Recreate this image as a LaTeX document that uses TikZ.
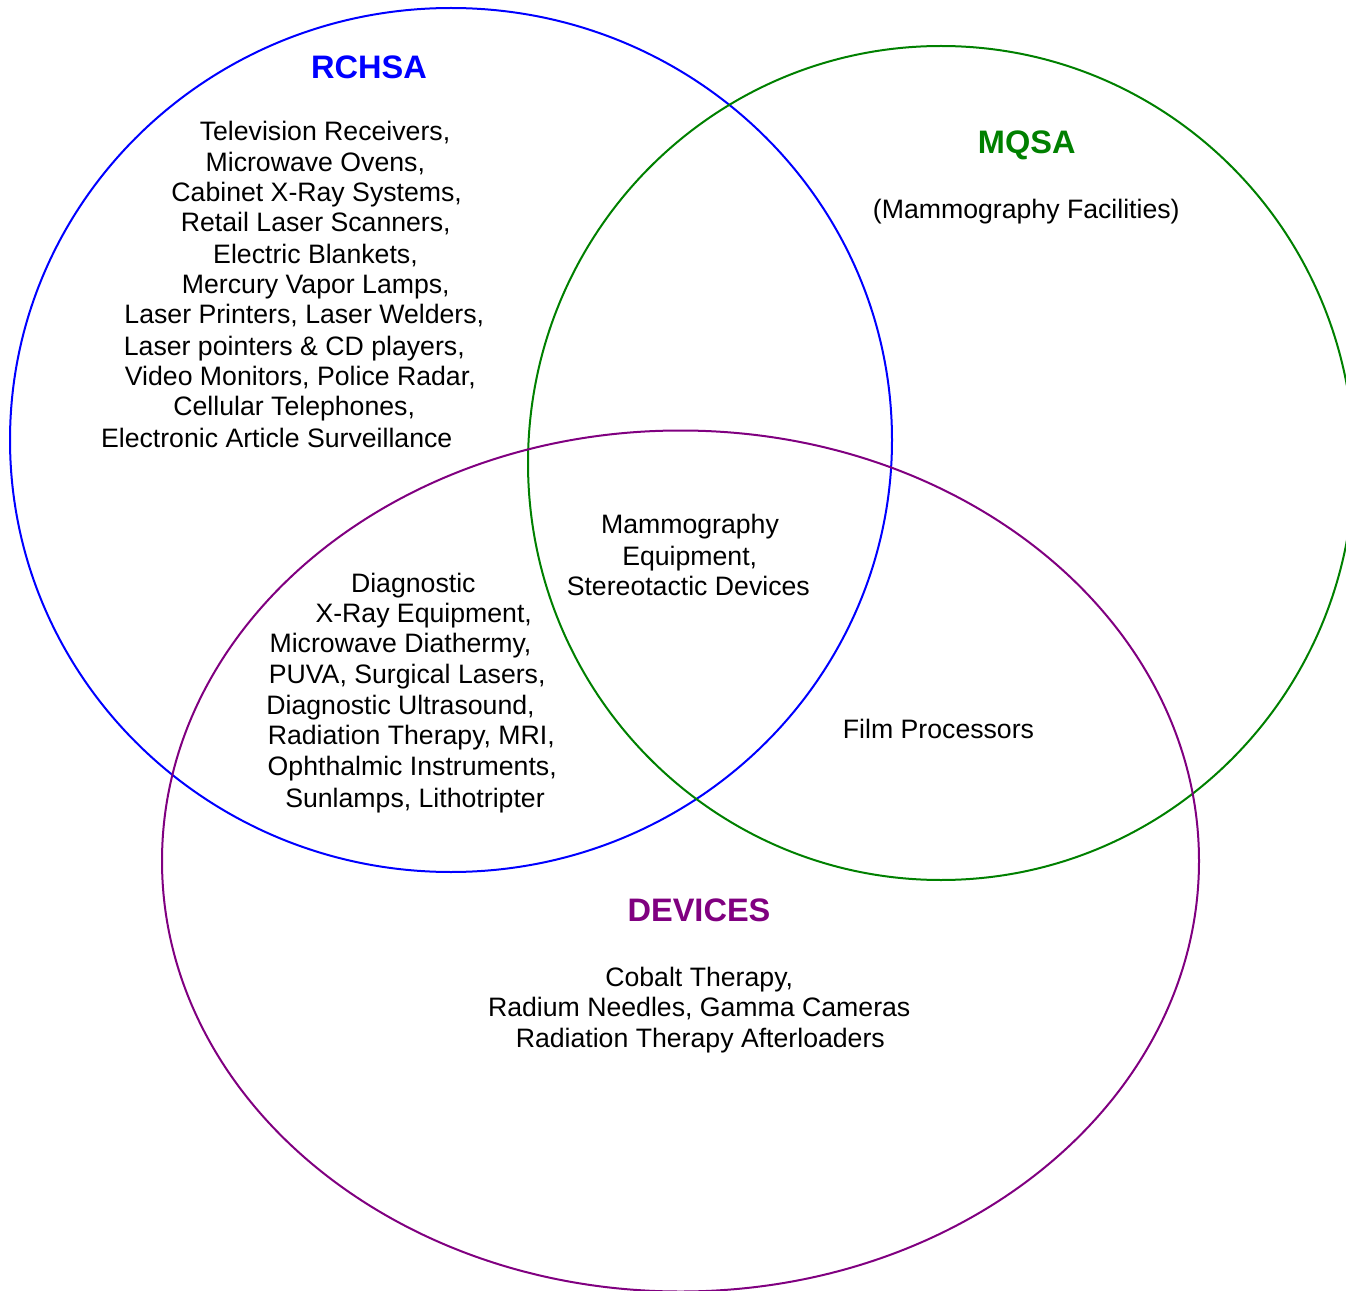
\documentclass[tikz,border=0pt]{standalone}
\usepackage{fontspec}
\setmainfont{Liberation Sans}
\usepackage{xcolor}
\usepackage{tikz}
\definecolor{rchsaBlue}{RGB}{0,0,255}
\definecolor{mqsaGreen}{RGB}{0,128,0}
\definecolor{devPurple}{RGB}{128,0,128}

\begin{document}
\begin{tikzpicture}[x=0.75pt,y=0.75pt,yscale=-1,xscale=1,
  item/.style={anchor=base, inner sep=0.75pt, font=\fontsize{20}{24}\selectfont},
  head/.style={anchor=base, inner sep=0.75pt, font=\fontsize{24.4}{29}\selectfont\bfseries}]
%set diagram left start at 0, and has height of 1291
\useasboundingbox (0,0) rectangle (1346,1291);
\clip (0,0) rectangle (1346,1291);

%Shape: Ellipse [id:rchsa]
\draw [color=rchsaBlue, line width=1.5] (451,440) ellipse [x radius=441, y radius=432];
%Shape: Ellipse [id:mqsa]
\draw [color=mqsaGreen, line width=1.5] (941,463) ellipse [x radius=413, y radius=417];
%Shape: Ellipse [id:devices]
\draw [color=devPurple, line width=1.5] (680.5,861) ellipse [x radius=518.5, y radius=430.5];

% Text Node
\node [head, color=rchsaBlue] (rchsaTitle) at (369,78.3) {RCHSA};
% Text Node
\node [item] (rc1) at (325,140.5) {Television Receivers,};
\node [item] (rc2) at (315.3,172) {Microwave Ovens,};
\node [item] (rc3) at (316.7,202) {Cabinet X-Ray Systems,};
\node [item] (rc4) at (315.8,232) {Retail Laser Scanners,};
\node [item] (rc5) at (315.5,263.5) {Electric Blankets,};
\node [item] (rc6) at (315.8,293.5) {Mercury Vapor Lamps,};
\node [item] (rc7) at (304.3,323.5) {Laser Printers, Laser Welders,};
\node [item] (rc8) at (294.3,355.3) {Laser pointers \& CD players,};
\node [item] (rc9) at (300.3,385.3) {Video Monitors, Police Radar,};
\node [item] (rc10) at (294.2,415.3) {Cellular Telephones,};
\node [item] (rc11) at (276.7,447) {Electronic Article Surveillance};

% Text Node
\node [head, color=mqsaGreen] (mqsaTitle) at (1026.7,154) {MQSA};
% Text Node
\node [item] (mq1) at (1026.3,218.5) {(Mammography Facilities)};

% Text Node
\node [item] (mid1) at (690,533.5) {Mammography};
\node [item] (mid2) at (689.7,565.3) {Equipment,};
\node [item] (mid3) at (688.3,595.3) {Stereotactic Devices};

% Text Node
\node [item] (rd1) at (413.3,592) {Diagnostic};
\node [item] (rd2) at (423.7,622) {X-Ray Equipment,};
\node [item] (rd3) at (400.5,652) {Microwave Diathermy,};
\node [item] (rd4) at (407.2,683.5) {PUVA, Surgical Lasers,};
\node [item] (rd5) at (400.5,714.3) {Diagnostic Ultrasound,};
\node [item] (rd6) at (411.3,744.3) {Radiation Therapy, MRI,};
\node [item] (rd7) at (412.2,775.3) {Ophthalmic Instruments,};
\node [item] (rd8) at (415,807.5) {Sunlamps, Lithotripter};

% Text Node
\node [item] (md1) at (938.5,738.3) {Film Processors};

% Text Node
\node [head, color=devPurple] (devTitle) at (699,921) {DEVICES};
% Text Node
\node [item] (dv1) at (699.2,986.3) {Cobalt Therapy,};
\node [item] (dv2) at (699.2,1016) {Radium Needles, Gamma Cameras};
\node [item] (dv3) at (700.3,1047.5) {Radiation Therapy Afterloaders};

\end{tikzpicture}
\end{document}
